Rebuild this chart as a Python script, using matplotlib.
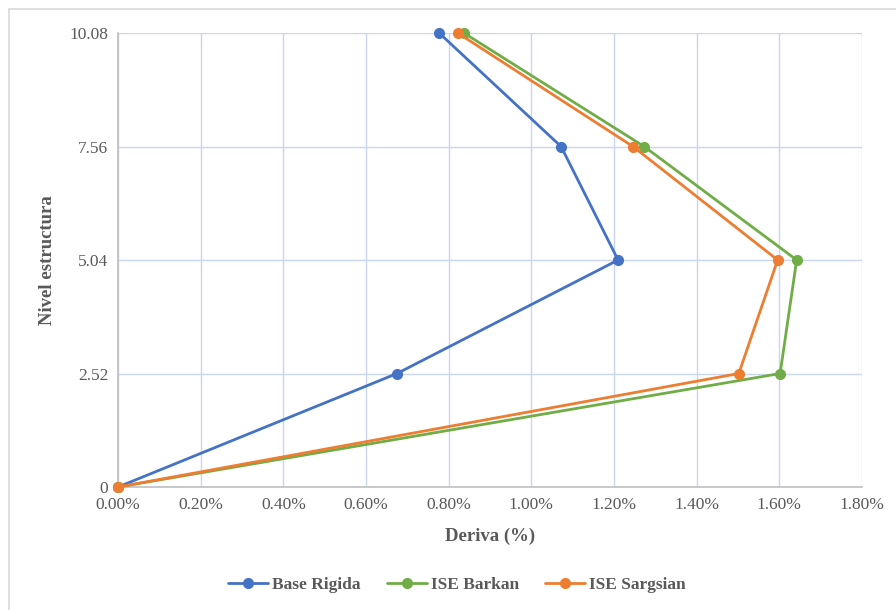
import matplotlib
matplotlib.use("Agg")
import matplotlib.pyplot as plt
from matplotlib.patches import Rectangle
from matplotlib.ticker import FuncFormatter

levels = [0, 2.52, 5.04, 7.56, 10.08]
base_rigida = [0.0, 0.675, 1.21, 1.072, 0.777]
ise_barkan = [0.0, 1.602, 1.642, 1.273, 0.837]
ise_sargsian = [0.0, 1.502, 1.596, 1.246, 0.822]
x_ticks = [0.0, 0.2, 0.4, 0.6, 0.8, 1.0, 1.2, 1.4, 1.6, 1.8]
y_ticks = [0, 2.52, 5.04, 7.56, 10.08]
y_tick_labels = ["0", "2.52", "5.04", "7.56", "10.08"]

plt.rcParams['font.family'] = ['Liberation Serif', 'DejaVu Serif']

fig = plt.figure(figsize=(8.96, 6.10), dpi=100)
fig.patches.append(Rectangle((0.010, -0.1), 1.2, 1.085, transform=fig.transFigure,
                             fill=False, edgecolor='#d9d9d9', linewidth=1.2))
ax = fig.add_axes([0.1317, 0.2016, 0.962 - 0.1317, 0.9459 - 0.2016])

series = [("Base Rigida", base_rigida, "#4472C4"),
          ("ISE Barkan", ise_barkan, "#70AD47"),
          ("ISE Sargsian", ise_sargsian, "#ED7D31")]
for name, vals, col in series:
    ax.plot(vals, levels, color=col, lw=2.0, marker='o', markersize=7, label=name,
            solid_capstyle='round', zorder=3, clip_on=False)

ax.set_xlim(0, 1.8)
ax.set_ylim(0, 10.08)
ax.set_xticks(x_ticks)
ax.xaxis.set_major_formatter(FuncFormatter(lambda v, p: f"{v:.2f}%"))
ax.set_yticks(y_ticks)
ax.set_yticklabels(y_tick_labels)
ax.grid(True, color='#c9d6ee', lw=1.0, zorder=0)
for s in ['top', 'right']:
    ax.spines[s].set_visible(False)
for s in ['left', 'bottom']:
    ax.spines[s].set_color('#bfbfbf')
    ax.spines[s].set_linewidth(1.2)
ax.tick_params(length=0, labelsize=12.5, colors='#595959', pad=7)
ax.set_xlabel("Deriva (%)", fontsize=13.5, fontweight='bold', color='#595959', labelpad=11)
ax.set_ylabel("Nivel estructura", fontsize=13.5, fontweight='bold', color='#595959', labelpad=10)

fig.legend(loc='center', bbox_to_anchor=(0.51, 0.041), ncol=3, frameon=False,
           prop={'size': 12.5, 'weight': 'bold'}, labelcolor='#595959',
           handlelength=2.3, columnspacing=1.5, handletextpad=0.25)

fig.savefig("out.png", dpi=100)
